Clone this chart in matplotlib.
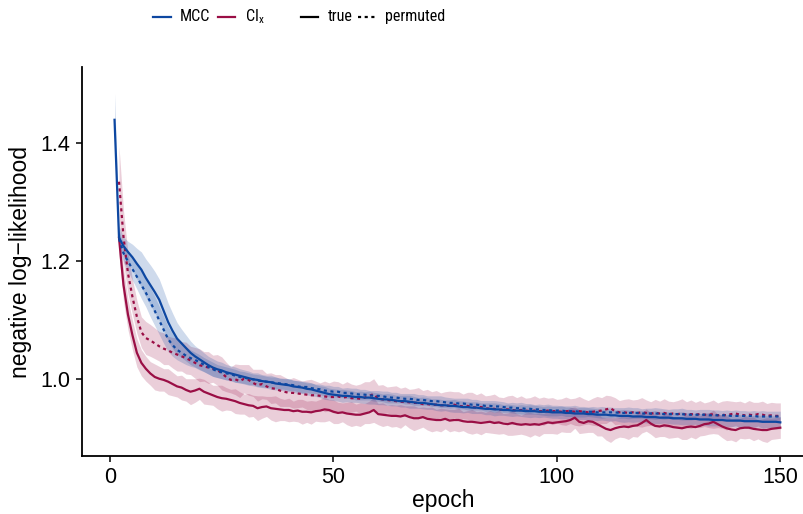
import numpy as np
import matplotlib
matplotlib.use("Agg")
import matplotlib.pyplot as plt
from matplotlib.lines import Line2D
from matplotlib import font_manager

plt.rcParams['font.family'] = ['Liberation Sans', 'DejaVu Sans']
plt.rcParams['mathtext.fontset'] = 'custom'
plt.rcParams['mathtext.rm'] = 'Liberation Sans'

# ---------------- data ----------------
MCC_EPOCHS = list(range(1, 151))
CIX_EPOCHS = list(range(2, 151))

mcc_true = [
    1.440, 1.240, 1.226, 1.216, 1.207, 1.196, 1.186, 1.172, 1.160, 1.148,
    1.135, 1.116, 1.097, 1.082, 1.069, 1.061, 1.053, 1.045, 1.039, 1.034,
    1.029, 1.024, 1.020, 1.017, 1.015, 1.012, 1.010, 1.008, 1.006, 1.004,
    1.002, 1.000, 0.999, 0.997, 0.996, 0.995, 0.993, 0.992, 0.991, 0.990,
    0.988, 0.987, 0.986, 0.984, 0.983, 0.981, 0.979, 0.977, 0.975, 0.974,
    0.973, 0.972, 0.972, 0.971, 0.970, 0.970, 0.969, 0.969, 0.968, 0.967,
    0.966, 0.966, 0.965, 0.964, 0.963, 0.963, 0.962, 0.961, 0.960, 0.960,
    0.959, 0.958, 0.957, 0.956, 0.956, 0.955, 0.955, 0.954, 0.953, 0.953,
    0.952, 0.952, 0.951, 0.950, 0.950, 0.949, 0.949, 0.948, 0.948, 0.947,
    0.947, 0.947, 0.946, 0.946, 0.946, 0.945, 0.945, 0.945, 0.944, 0.944,
    0.944, 0.943, 0.943, 0.942, 0.942, 0.942, 0.941, 0.941, 0.940, 0.940,
    0.940, 0.939, 0.939, 0.938, 0.938, 0.938, 0.937, 0.937, 0.937, 0.936,
    0.936, 0.936, 0.935, 0.935, 0.935, 0.934, 0.934, 0.934, 0.933, 0.933,
    0.933, 0.932, 0.932, 0.932, 0.931, 0.931, 0.931, 0.930, 0.930, 0.930,
    0.930, 0.929, 0.929, 0.929, 0.929, 0.928, 0.928, 0.928, 0.928, 0.927,
]
mcc_true_sd = [
    0.045, 0.020, 0.015, 0.018, 0.022, 0.026, 0.030, 0.032, 0.034, 0.035,
    0.035, 0.034, 0.032, 0.030, 0.027, 0.024, 0.022, 0.020, 0.018, 0.017,
    0.016, 0.015, 0.015, 0.014, 0.014, 0.013, 0.013, 0.013, 0.012, 0.012,
    0.012, 0.011, 0.012, 0.011, 0.011, 0.012, 0.011, 0.010, 0.011, 0.011,
    0.010, 0.011, 0.010, 0.010, 0.011, 0.010, 0.010, 0.011, 0.010, 0.010,
    0.010, 0.011, 0.010, 0.010, 0.009, 0.010, 0.010, 0.011, 0.010, 0.010,
    0.009, 0.010, 0.010, 0.009, 0.010, 0.010, 0.011, 0.010, 0.009, 0.010,
    0.010, 0.009, 0.010, 0.010, 0.009, 0.010, 0.011, 0.010, 0.010, 0.009,
    0.010, 0.010, 0.009, 0.010, 0.010, 0.011, 0.010, 0.009, 0.010, 0.010,
    0.009, 0.010, 0.010, 0.011, 0.010, 0.010, 0.009, 0.010, 0.010, 0.010,
    0.011, 0.010, 0.010, 0.009, 0.010, 0.010, 0.011, 0.010, 0.010, 0.009,
    0.010, 0.010, 0.009, 0.010, 0.011, 0.010, 0.010, 0.009, 0.010, 0.010,
    0.010, 0.011, 0.010, 0.009, 0.010, 0.010, 0.010, 0.011, 0.010, 0.010,
    0.009, 0.010, 0.010, 0.011, 0.010, 0.010, 0.009, 0.010, 0.010, 0.011,
    0.010, 0.010, 0.009, 0.010, 0.010, 0.011, 0.010, 0.010, 0.010, 0.010,
]

mcc_perm = [
    1.238, 1.214, 1.200, 1.187, 1.174, 1.160, 1.147, 1.131, 1.116,
    1.100, 1.084, 1.068, 1.058, 1.050, 1.045, 1.040, 1.036, 1.033, 1.029,
    1.025, 1.021, 1.017, 1.014, 1.012, 1.010, 1.009, 1.006, 1.004, 1.003,
    1.001, 1.000, 0.998, 0.997, 0.996, 0.995, 0.994, 0.993, 0.992, 0.991,
    0.990, 0.988, 0.987, 0.987, 0.985, 0.984, 0.983, 0.981, 0.980, 0.979,
    0.979, 0.977, 0.977, 0.976, 0.975, 0.974, 0.974, 0.973, 0.972, 0.972,
    0.971, 0.970, 0.969, 0.969, 0.968, 0.967, 0.967, 0.966, 0.965, 0.965,
    0.964, 0.963, 0.963, 0.962, 0.961, 0.960, 0.960, 0.959, 0.959, 0.958,
    0.957, 0.957, 0.956, 0.955, 0.955, 0.954, 0.954, 0.953, 0.952, 0.952,
    0.951, 0.951, 0.950, 0.950, 0.949, 0.949, 0.948, 0.948, 0.947, 0.947,
    0.947, 0.946, 0.946, 0.946, 0.945, 0.945, 0.945, 0.945, 0.944, 0.944,
    0.944, 0.944, 0.944, 0.943, 0.943, 0.943, 0.943, 0.943, 0.942, 0.942,
    0.942, 0.942, 0.942, 0.941, 0.941, 0.941, 0.941, 0.941, 0.940, 0.940,
    0.940, 0.940, 0.940, 0.939, 0.939, 0.939, 0.939, 0.939, 0.938, 0.938,
    0.938, 0.938, 0.938, 0.938, 0.937, 0.937, 0.937, 0.937, 0.937, 0.937,
]
mcc_perm_sd = [
    0.015, 0.015, 0.017, 0.019, 0.021, 0.023, 0.024, 0.025, 0.025,
    0.024, 0.023, 0.021, 0.019, 0.017, 0.016, 0.015, 0.014, 0.013, 0.013,
    0.012, 0.012, 0.012, 0.011, 0.011, 0.011, 0.010, 0.011, 0.010, 0.010,
    0.010, 0.009, 0.010, 0.010, 0.009, 0.009, 0.010, 0.009, 0.009, 0.010,
    0.009, 0.009, 0.010, 0.009, 0.009, 0.008, 0.009, 0.009, 0.010, 0.009,
    0.009, 0.008, 0.009, 0.009, 0.010, 0.009, 0.009, 0.008, 0.009, 0.009,
    0.009, 0.010, 0.009, 0.009, 0.008, 0.009, 0.009, 0.010, 0.009, 0.009,
    0.008, 0.009, 0.009, 0.010, 0.009, 0.009, 0.008, 0.009, 0.009, 0.010,
    0.009, 0.009, 0.008, 0.009, 0.009, 0.010, 0.009, 0.009, 0.008, 0.009,
    0.009, 0.010, 0.009, 0.009, 0.008, 0.009, 0.009, 0.010, 0.009, 0.009,
    0.008, 0.009, 0.009, 0.010, 0.009, 0.009, 0.008, 0.009, 0.009, 0.010,
    0.009, 0.009, 0.008, 0.009, 0.009, 0.010, 0.009, 0.009, 0.008, 0.009,
    0.009, 0.010, 0.009, 0.009, 0.008, 0.009, 0.009, 0.010, 0.009, 0.009,
    0.008, 0.009, 0.009, 0.010, 0.009, 0.009, 0.008, 0.009, 0.009, 0.010,
    0.009, 0.009, 0.008, 0.009, 0.009, 0.010, 0.009, 0.009, 0.009, 0.009,
]

cix_true = [
    1.240, 1.160, 1.110, 1.075, 1.045, 1.028, 1.018, 1.010, 1.004,
    1.001, 0.999, 0.996, 0.992, 0.988, 0.986, 0.982, 0.979, 0.981, 0.984,
    0.979, 0.976, 0.973, 0.970, 0.968, 0.967, 0.965, 0.963, 0.960, 0.958,
    0.956, 0.955, 0.951, 0.953, 0.954, 0.951, 0.950, 0.949, 0.948, 0.948,
    0.946, 0.947, 0.945, 0.945, 0.944, 0.946, 0.947, 0.949, 0.948, 0.945,
    0.943, 0.944, 0.942, 0.941, 0.940, 0.940, 0.942, 0.944, 0.948, 0.941,
    0.940, 0.939, 0.938, 0.938, 0.937, 0.939, 0.936, 0.934, 0.934, 0.936,
    0.933, 0.932, 0.931, 0.931, 0.933, 0.930, 0.931, 0.931, 0.929, 0.928,
    0.928, 0.927, 0.926, 0.927, 0.928, 0.926, 0.927, 0.925, 0.924, 0.926,
    0.924, 0.923, 0.924, 0.923, 0.924, 0.923, 0.925, 0.927, 0.926, 0.927,
    0.928, 0.929, 0.931, 0.935, 0.928, 0.926, 0.929, 0.928, 0.924, 0.920,
    0.916, 0.914, 0.917, 0.919, 0.920, 0.919, 0.921, 0.922, 0.926, 0.931,
    0.925, 0.921, 0.920, 0.922, 0.921, 0.919, 0.918, 0.917, 0.919, 0.920,
    0.919, 0.921, 0.924, 0.925, 0.928, 0.924, 0.920, 0.917, 0.915, 0.914,
    0.917, 0.918, 0.918, 0.916, 0.915, 0.914, 0.914, 0.916, 0.917, 0.918,
]
cix_true_sd = [
    0.030, 0.028, 0.026, 0.025, 0.024, 0.022, 0.021, 0.020, 0.022,
    0.021, 0.019, 0.022, 0.020, 0.018, 0.021, 0.019, 0.022, 0.020, 0.018,
    0.021, 0.019, 0.017, 0.020, 0.022, 0.019, 0.018, 0.021, 0.019, 0.017,
    0.020, 0.018, 0.021, 0.019, 0.017, 0.020, 0.022, 0.019, 0.018, 0.020,
    0.017, 0.019, 0.021, 0.018, 0.020, 0.017, 0.019, 0.021, 0.018, 0.020,
    0.018, 0.016, 0.019, 0.021, 0.018, 0.020, 0.017, 0.019, 0.021, 0.018,
    0.020, 0.017, 0.019, 0.018, 0.020, 0.016, 0.019, 0.021, 0.018, 0.017,
    0.019, 0.021, 0.018, 0.020, 0.017, 0.019, 0.018, 0.020, 0.016, 0.019,
    0.021, 0.018, 0.020, 0.017, 0.019, 0.018, 0.020, 0.017, 0.019, 0.021,
    0.018, 0.016, 0.019, 0.021, 0.018, 0.020, 0.017, 0.019, 0.018, 0.020,
    0.017, 0.019, 0.021, 0.018, 0.020, 0.017, 0.019, 0.018, 0.020, 0.016,
    0.019, 0.021, 0.018, 0.017, 0.019, 0.021, 0.018, 0.020, 0.017, 0.019,
    0.018, 0.020, 0.017, 0.019, 0.021, 0.018, 0.016, 0.019, 0.021, 0.018,
    0.020, 0.017, 0.019, 0.018, 0.020, 0.017, 0.019, 0.021, 0.018, 0.020,
    0.017, 0.019, 0.018, 0.020, 0.016, 0.019, 0.021, 0.018, 0.018, 0.018,
]

cix_perm = [
    1.335, 1.242, 1.180, 1.140, 1.106, 1.080, 1.070, 1.066, 1.061,
    1.056, 1.052, 1.049, 1.045, 1.042, 1.039, 1.036, 1.032, 1.028, 1.024,
    1.022, 1.020, 1.018, 1.016, 1.010, 1.004, 0.999, 1.000, 0.997, 1.001,
    0.999, 0.994, 0.990, 0.992, 0.988, 0.985, 0.984, 0.981, 0.979, 0.977,
    0.977, 0.976, 0.975, 0.974, 0.973, 0.973, 0.972, 0.971, 0.970, 0.970,
    0.971, 0.969, 0.970, 0.968, 0.968, 0.967, 0.969, 0.972, 0.975, 0.967,
    0.966, 0.965, 0.964, 0.963, 0.962, 0.962, 0.961, 0.960, 0.960, 0.958,
    0.958, 0.957, 0.957, 0.956, 0.956, 0.955, 0.957, 0.955, 0.954, 0.955,
    0.953, 0.952, 0.953, 0.951, 0.950, 0.950, 0.948, 0.949, 0.949, 0.948,
    0.947, 0.948, 0.947, 0.946, 0.947, 0.946, 0.946, 0.947, 0.946, 0.946,
    0.945, 0.946, 0.946, 0.945, 0.946, 0.945, 0.944, 0.945, 0.946, 0.947,
    0.949, 0.951, 0.946, 0.944, 0.944, 0.943, 0.944, 0.943, 0.944, 0.943,
    0.942, 0.943, 0.942, 0.943, 0.941, 0.942, 0.941, 0.942, 0.940, 0.941,
    0.940, 0.941, 0.940, 0.940, 0.941, 0.939, 0.940, 0.939, 0.941, 0.942,
    0.940, 0.939, 0.940, 0.939, 0.941, 0.940, 0.938, 0.939, 0.938, 0.938,
]
cix_perm_sd = [
    0.060, 0.045, 0.035, 0.030, 0.028, 0.026, 0.028, 0.027, 0.026,
    0.025, 0.027, 0.024, 0.026, 0.028, 0.025, 0.027, 0.024, 0.026, 0.028,
    0.025, 0.027, 0.023, 0.026, 0.028, 0.025, 0.022, 0.026, 0.028, 0.024,
    0.026, 0.023, 0.027, 0.025, 0.022, 0.026, 0.024, 0.027, 0.025, 0.023,
    0.026, 0.024, 0.022, 0.025, 0.027, 0.024, 0.022, 0.026, 0.024, 0.027,
    0.025, 0.023, 0.026, 0.024, 0.022, 0.025, 0.027, 0.024, 0.026, 0.023,
    0.025, 0.022, 0.024, 0.026, 0.023, 0.025, 0.022, 0.024, 0.026, 0.023,
    0.025, 0.022, 0.024, 0.021, 0.023, 0.025, 0.022, 0.024, 0.021, 0.023,
    0.025, 0.022, 0.024, 0.021, 0.023, 0.025, 0.022, 0.020, 0.023, 0.025,
    0.022, 0.024, 0.021, 0.023, 0.025, 0.022, 0.024, 0.021, 0.023, 0.020,
    0.022, 0.024, 0.021, 0.023, 0.025, 0.022, 0.020, 0.023, 0.025, 0.022,
    0.024, 0.021, 0.023, 0.020, 0.022, 0.024, 0.021, 0.023, 0.025, 0.022,
    0.020, 0.023, 0.021, 0.024, 0.022, 0.020, 0.023, 0.025, 0.022, 0.024,
    0.021, 0.023, 0.020, 0.022, 0.024, 0.021, 0.023, 0.025, 0.022, 0.020,
    0.023, 0.021, 0.024, 0.022, 0.020, 0.023, 0.021, 0.022, 0.022, 0.022,
]

MCC_COL = "#0D47A1"
CIX_COL = "#9A0E45"
DOTTED = (0, (1.4, 1.6))

# narrow font for the legend if one is installed
installed = {f.name for f in font_manager.fontManager.ttflist}
LEG_FAMILY = 'Liberation Sans'
for cand in ['Liberation Sans Narrow', 'DejaVu Sans Condensed', 'Roboto Condensed']:
    if cand in installed:
        LEG_FAMILY = cand
        break

# ---------------- plot ----------------
fig = plt.figure(figsize=(8.04, 5.14), dpi=100)
ax = fig.add_axes([81.7 / 804, 1 - 455.7 / 514, (804 - 81.7) / 804, (455.7 - 67.3) / 514])

series = [
    (CIX_EPOCHS, cix_perm, cix_perm_sd, CIX_COL, DOTTED),
    (CIX_EPOCHS, cix_true, cix_true_sd, CIX_COL, '-'),
    (MCC_EPOCHS[1:], mcc_perm, mcc_perm_sd, MCC_COL, DOTTED),
    (MCC_EPOCHS, mcc_true, mcc_true_sd, MCC_COL, '-'),
]
for x, y, sd, col, _ in series:
    y = np.array(y); sd = np.array(sd)
    ax.fill_between(x, y - sd, y + sd, color=col, alpha=0.2, linewidth=0)
for x, y, sd, col, ls in series:
    ax.plot(x, y, color=col, linestyle=ls, linewidth=1.6)

ax.set_xlim(-6.35, 155.3)
ax.set_ylim(0.8705, 1.529)
ax.set_xticks([0, 50, 100, 150])
ax.set_yticks([1.0, 1.2, 1.4])
ax.set_yticklabels(["1.0", "1.2", "1.4"])
for s in ['top', 'right']:
    ax.spines[s].set_visible(False)
for s in ['left', 'bottom']:
    ax.spines[s].set_linewidth(1.3)
ax.tick_params(axis='both', length=4.5, width=1.1, labelsize=15.5, colors='black', pad=3.5)
ax.set_xlabel("epoch", fontsize=16.5, labelpad=1)
ax.set_ylabel("negative log\u2212likelihood", fontsize=16.5, labelpad=6)

# legend on top
ly = 1 - 16.7 / 514
def key(x0, x1, col, ls):
    fig.add_artist(Line2D([x0 / 804, x1 / 804], [ly, ly], color=col, linestyle=ls,
                          linewidth=1.6, transform=fig.transFigure))
leg_kw = dict(fontsize=11.5, va='center', family=LEG_FAMILY)
key(153, 171, MCC_COL, '-')
fig.text(180 / 804, ly, "MCC", **leg_kw)
key(218, 235, CIX_COL, '-')
fig.text(245 / 804, ly, r"CI$_{\mathregular{x}}$", **leg_kw)
key(301, 318, 'black', '-')
fig.text(328 / 804, ly, "true", **leg_kw)
key(358, 375, 'black', DOTTED)
fig.text(385 / 804, ly, "permuted", **leg_kw)

fig.savefig("out.png", dpi=100)
